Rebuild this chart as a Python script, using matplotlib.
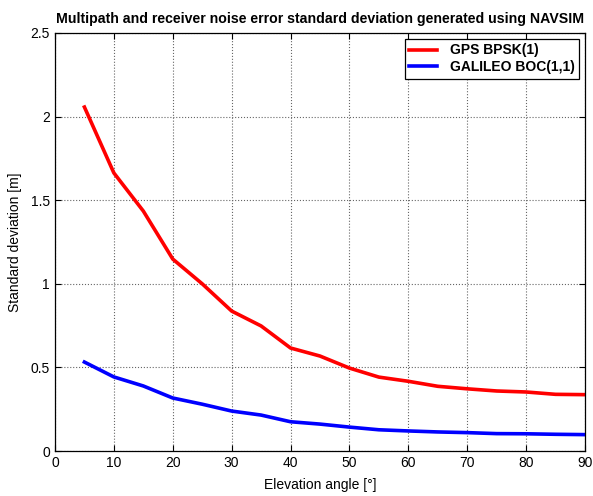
import matplotlib
matplotlib.use('Agg')
import matplotlib.pyplot as plt

elevation = [5, 10, 15, 20, 25, 30, 35, 40, 45, 50, 55, 60, 65, 70, 75, 80, 85, 90]
gps_bpsk = [2.057, 1.663, 1.435, 1.148, 1.0, 0.837, 0.748, 0.616, 0.568, 0.496,
            0.442, 0.417, 0.387, 0.372, 0.359, 0.353, 0.339, 0.337]
galileo_boc = [0.532, 0.443, 0.389, 0.317, 0.28, 0.239, 0.215, 0.175, 0.161, 0.143,
               0.127, 0.12, 0.114, 0.11, 0.104, 0.103, 0.1, 0.098]

x_ticks = [0, 10, 20, 30, 40, 50, 60, 70, 80, 90]
y_ticks = [0, 0.5, 1, 1.5, 2, 2.5]
y_labels = ['0', '0.5', '1', '1.5', '2', '2.5']

plt.rcParams['font.family'] = ['Liberation Sans', 'DejaVu Sans']

fig = plt.figure(figsize=(5.93, 4.96), dpi=100)
ax = fig.add_axes([0.0927, 0.0907, 0.8938, 0.8428])

ax.plot(elevation, gps_bpsk, color='#ff0000', linewidth=2.6, label='GPS BPSK(1)')
ax.plot(elevation, galileo_boc, color='#0000ff', linewidth=2.6, label='GALILEO BOC(1,1)')

ax.set_xlim(0, 90)
ax.set_ylim(0, 2.5)
ax.set_xticks(x_ticks)
ax.set_yticks(y_ticks)
ax.set_yticklabels(y_labels)
ax.tick_params(direction='in', top=True, right=True, labelsize=10, length=4, width=0.8)
ax.grid(True, linestyle=':', color='#666666', linewidth=0.8)
for s in ax.spines.values():
    s.set_linewidth(0.9)

ax.set_xlabel('Elevation angle [°]', fontsize=10, labelpad=6)
ax.set_ylabel('Standard deviation [m]', fontsize=10, labelpad=6)
ax.set_title('Multipath and receiver noise error standard deviation generated using NAVSIM',
             fontsize=10.2, fontweight='bold', pad=7)

leg = ax.legend(loc='upper right', prop={'weight': 'bold', 'size': 10}, fancybox=False,
                framealpha=1, edgecolor='black', borderaxespad=0.4, handlelength=2.0,
                borderpad=0.35, labelspacing=0.2, handletextpad=0.9)
leg.get_frame().set_linewidth(0.9)

fig.savefig('out.png', dpi=100)
